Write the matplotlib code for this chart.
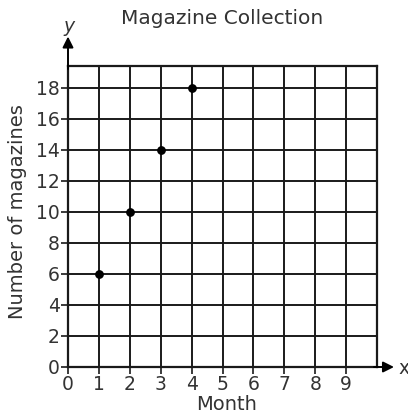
import matplotlib.pyplot as plt

months = [1, 2, 3, 4]
magazines = [6, 10, 14, 18]
x_ticks = list(range(0, 10))
y_ticks = list(range(0, 19, 2))

plt.rcParams['font.family'] = ['DejaVu Sans']

W, H = 408, 417
fig = plt.figure(figsize=(W / 100, H / 100), dpi=100)
ax = fig.add_axes([68 / W, 1 - 367 / H, (377 - 68) / W, (367 - 66) / H])

ax.set_xlim(0, 10)
ax.set_ylim(0, 19.4)

# grid
for gx in range(0, 11):
    ax.axvline(gx, color='#1a1a1a', lw=1.4, zorder=1)
for gy in range(0, 20, 2):
    ax.axhline(gy, color='#1a1a1a', lw=1.4, zorder=1)
for s in ax.spines.values():
    s.set_linewidth(1.6)
    s.set_color('#1a1a1a')

ax.scatter(months, magazines, s=28, color='black', zorder=3)

ax.set_xticks(x_ticks)
ax.set_yticks(y_ticks)
ax.tick_params(axis='both', labelsize=13.5, color='#1a1a1a', width=1.2, length=5,
               labelcolor='#333333', pad=1)

# axis arrows
ax.annotate('', xy=(10.55, 0), xytext=(9.9, 0), annotation_clip=False,
            arrowprops=dict(arrowstyle='-|>', color='black', lw=1.4,
                            mutation_scale=16, shrinkA=0, shrinkB=0))
ax.annotate('', xy=(0, 21.3), xytext=(0, 19.2), annotation_clip=False,
            arrowprops=dict(arrowstyle='-|>', color='black', lw=1.4,
                            mutation_scale=16, shrinkA=0, shrinkB=0))
fig.text(398 / W, 1 - 368 / H, 'x', fontsize=13.5, color='#333333', va='center', ha='left')
fig.text(69 / W, 1 - 27 / H, 'y', fontsize=13.5, color='#333333', va='center', ha='center',
         style='italic')

fig.text(222 / W, 1 - 18 / H, 'Magazine Collection', fontsize=14.5, color='#333333',
         ha='center', va='center')
fig.text(227 / W, 1 - 405 / H, 'Month', fontsize=14, color='#333333',
         ha='center', va='center')
fig.text(18 / W, 1 - 212 / H, 'Number of magazines', fontsize=14, color='#333333',
         ha='center', va='center', rotation=90)

fig.savefig('out.png', dpi=100)
